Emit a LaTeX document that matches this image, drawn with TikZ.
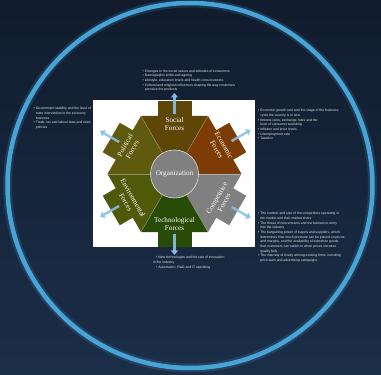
\documentclass[tikz,border=0pt]{standalone}
\usepackage{fontspec}
\setmainfont{Liberation Serif}
\newfontfamily\blockfont{Liberation Sans}
\usetikzlibrary{arrows.meta}
\definecolor{bgtop}{RGB}{17,28,46}
\definecolor{bgbot}{RGB}{27,46,72}
\definecolor{ringc}{RGB}{72,164,214}
\definecolor{socialc}{RGB}{94,70,6}
\definecolor{econc}{RGB}{125,60,4}
\definecolor{compc}{RGB}{128,128,128}
\definecolor{techc}{RGB}{40,75,8}
\definecolor{envc}{RGB}{78,90,10}
\definecolor{polc}{RGB}{95,90,14}
\definecolor{arrowc}{RGB}{135,195,235}
\begin{document}
\begin{tikzpicture}[x=1pt,y=1pt,
  labeltext/.style={text=white, font=\fontsize{7.2}{8.4}\selectfont, align=center, inner sep=0pt},
  blocktext/.style={text=white!90!black, font=\blockfont\fontsize{3.4}{4.7}\selectfont, align=left, anchor=north west, inner sep=0pt},
  forcearrow/.style={draw=arrowc, line width=2.4pt, -{Triangle[length=4.5pt,width=7pt]}, opacity=0.9},
  sepline/.style={draw=white, opacity=0.35, line width=0.4pt},
]
\useasboundingbox (0,0) rectangle (381,375);
\shade[top color=bgtop, bottom color=bgbot] (0,0) rectangle (381,375);
\draw[ringc, line width=9pt, opacity=0.18] (190,189.5) circle[radius=182.5];
\draw[ringc, line width=4.5pt] (190,189.5) circle[radius=182.5];
\fill[white] (93,128) rectangle (254.5,275);
\begin{scope}[shift={(174.5,201)}]
  \foreach \ang/\col in {90/socialc,30/econc,-30/compc,-90/techc,-150/envc,150/polc}{
    \begin{scope}[rotate=\ang]
      \fill[\col] (0,0) -- (-30:67) -- (30:67) -- cycle;
      \fill[\col] (55,-17) -- (73,-17) -- (73,17) -- (55,17) -- cycle;
    \end{scope}
  }
  \foreach \ang in {0,60,120,180,240,300}{
    \draw[sepline] (\ang:24) -- (\ang:67);
  }
  \node[circle, fill=compc, draw=white!75!gray, line width=0.6pt, minimum size=48pt, inner sep=0pt, text=white, font=\fontsize{7.2}{8.4}\selectfont] (org) at (0,0) {Organization};
  \node[labeltext] (social) at (90:50) {Social\\Forces};
  \node[labeltext, rotate=-60] (econ) at (30:53) {Economic\\Forces};
  \node[labeltext, rotate=60] (comp) at (-30:53) {Competitive\\Forces};
  \node[labeltext] (tech) at (-90:50) {Technological\\Forces};
  \node[labeltext, rotate=-60] (env) at (-150:52) {Environmental\\Forces};
  \node[labeltext, rotate=60] (pol) at (150:53) {Political\\Forces};
  \coordinate (s1) at (90:60);   \coordinate (e1) at (90:81);
  \coordinate (s2) at (30:66);   \coordinate (e2) at (30:88);
  \coordinate (s3) at (-30:66);  \coordinate (e3) at (-30:88);
  \coordinate (s4) at (-90:60);  \coordinate (e4) at (-90:81);
  \coordinate (s5) at (-150:64); \coordinate (e5) at (-150:86);
  \coordinate (s6) at (150:64);  \coordinate (e6) at (150:86);
  \foreach \i in {1,...,6}{\draw[forcearrow] (s\i) -- (e\i);}
\end{scope}
\node[blocktext] (socialtxt) at (142.5,305.5) {%
• Changes in the social values and attitudes of consumers\\
• Demographic shifts and ageing\\
• Lifestyle, education levels and health consciousness\\
• Cultural and religious influences shaping the way customers\\
\hspace*{2.2pt}perceive the products};
\node[blocktext] (poltxt) at (33.5,268) {%
• Government stability and the level of\\
\hspace*{2.2pt}state intervention in the economy\\
\hspace*{2.2pt}business\\
• Trade, tax and labour laws and rules\\
\hspace*{2.2pt}policies};
\node[blocktext] (econtxt) at (258,266) {%
• Economic growth rate and the stage of the business\\
\hspace*{2.2pt}cycle the country is in now\\
• Interest rates, exchange rates and the\\
\hspace*{2.2pt}level of consumer spending\\
• Inflation and price levels\\
• Unemployment rate\\
• Taxation};
\node[blocktext] (comptxt) at (258,163) {%
• The number and size of the competitors operating in\\
\hspace*{2.2pt}the market and their market share\\
• The threat of new entrants and the barriers to entry\\
\hspace*{2.2pt}into the industry\\
• The bargaining power of buyers and suppliers, which\\
\hspace*{2.2pt}determines how much pressure can be placed on prices\\
\hspace*{2.2pt}and margins, and the availability of substitute goods\\
\hspace*{2.2pt}that customers can switch to when prices increase\\
\hspace*{2.2pt}quality falls\\
• The intensity of rivalry among existing firms, including\\
\hspace*{2.2pt}price wars and advertising campaigns};
\node[blocktext] (techtxt) at (153,119) {%
\hspace*{3pt}• New technologies and the rate of innovation\\
in the industry\\
\hspace*{3pt}• Automation, R\&D and IT spending};
\end{tikzpicture}
\end{document}
